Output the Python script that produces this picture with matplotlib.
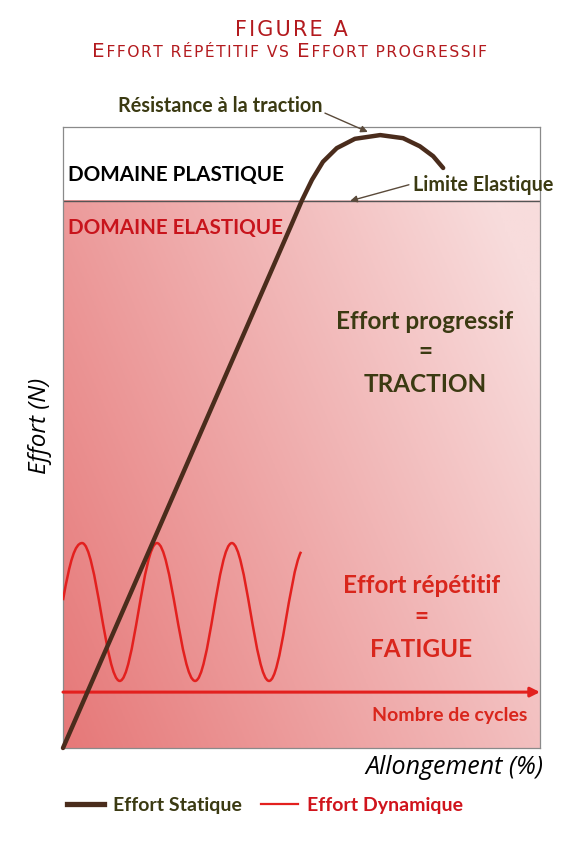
import numpy as np
import matplotlib.pyplot as plt
from matplotlib.path import Path
from matplotlib.patches import PathPatch
from matplotlib.lines import Line2D

plt.rcParams['font.family'] = ['Lato', 'DejaVu Sans']

# static curve (allongement %, effort) - straight part then the plastic arc
static_x = [0.0, 47.8, 50.1, 52.2, 54.5, 57.4, 61.2, 66.5, 71.3, 74.8, 77.6, 79.7]
static_y = [0.0, 84.1, 88.2, 91.5, 94.4, 96.6, 98.1, 98.7, 98.2, 96.9, 95.3, 93.4]

# dynamic curve: key points (start, peaks / troughs, end)
dyn_x = [0.0, 4.0, 11.9, 19.7, 27.7, 35.4, 43.2, 49.9]
dyn_y = [23.8, 33.0, 10.8, 33.0, 10.8, 33.0, 10.8, 31.6]
dyn_slope = [4.4, 0.0, 0.0, 0.0, 0.0, 0.0, 0.0, 1.5]

limite_elastique = 88.1
cycles_axis_y = 9.0

brown = '#4a2c1c'
olive = '#3b3a12'
red_txt = '#d9261c'
red_line = '#e3201e'

fig = plt.figure(figsize=(5.69, 8.43), dpi=100)
ax = fig.add_axes([63 / 569, 95 / 843, 477 / 569, 621 / 843])
ax.set_xlim(0, 100)
ax.set_ylim(0, 100)
ax.set_xticks([])
ax.set_yticks([])
for s in ax.spines.values():
    s.set_color('#8a8a8a')
    s.set_linewidth(0.9)

# pink gradient of the elastic domain
gx, gy = np.meshgrid(np.linspace(0, 1, 200), np.linspace(0, 1, 200))
t = np.clip(0.72 * gx + 0.35 * gy, 0, 1)
c0 = np.array([230, 120, 120]) / 255
c1 = np.array([248, 220, 220]) / 255
img = c0 + (c1 - c0) * t[..., None]
ax.imshow(img, extent=(0, 100, 0, limite_elastique), origin='lower',
          aspect='auto', zorder=0)
ax.axhline(limite_elastique, color='#555555', lw=1, zorder=1)

# dynamic effort - smooth wave through the key points
verts = [(dyn_x[0], dyn_y[0])]
codes = [Path.MOVETO]
for i in range(len(dyn_x) - 1):
    dx = dyn_x[i + 1] - dyn_x[i]
    h = 0.364 * dx
    verts += [(dyn_x[i] + h, dyn_y[i] + h * dyn_slope[i]),
              (dyn_x[i + 1] - h, dyn_y[i + 1] - h * dyn_slope[i + 1]),
              (dyn_x[i + 1], dyn_y[i + 1])]
    codes += [Path.CURVE4] * 3
ax.add_patch(PathPatch(Path(verts, codes), fill=False, edgecolor=red_line,
                       lw=1.8, zorder=3))

# static effort
ax.plot(static_x, static_y, color=brown, lw=3.2, solid_capstyle='round',
        solid_joinstyle='round', zorder=4, clip_on=False)

# nombre de cycles axis
ax.annotate('', xy=(100, cycles_axis_y), xytext=(0, cycles_axis_y),
            arrowprops=dict(arrowstyle='-|>', color=red_line, lw=2.2,
                            mutation_scale=14, shrinkA=0, shrinkB=0), zorder=3)
ax.text(81.0, 5.3, 'Nombre de cycles', color=red_txt, fontsize=14,
        fontweight='bold', ha='center', va='center')

# domain labels
ax.text(1.0, 92.3, 'DOMAINE PLASTIQUE', color='black', fontsize=14.9,
        fontweight='bold', ha='left', va='center')
ax.text(1.0, 83.8, 'DOMAINE ELASTIQUE', color='#c8141c', fontsize=14.9,
        fontweight='bold', ha='left', va='center')

# annotations
arrow_kw = dict(arrowstyle='-|>', color='#5a4a3a', lw=1, mutation_scale=10,
                shrinkA=0, shrinkB=0)
ax.annotate('Résistance à la traction', xy=(63.9, 99.2), xytext=(32.9, 103.4),
            color=olive, fontsize=14.3, fontweight='bold', ha='center',
            va='center', annotation_clip=False,
            arrowprops=dict(arrow_kw, relpos=(1.0, 0.2)))
ax.annotate('Limite Elastique', xy=(60.2, 88.1), xytext=(73.4, 90.7),
            color=olive, fontsize=14.2, fontweight='bold', ha='left',
            va='center', annotation_clip=False,
            arrowprops=dict(arrow_kw, relpos=(-0.03, 0.5)))

# central statements
for txt, y in [('Effort progressif', 68.6), ('=', 63.8), ('TRACTION', 58.5)]:
    ax.text(75.9, y, txt, color=olive, fontsize=17.5, fontweight='bold',
            ha='center', va='center')
for txt, y in [('Effort répétitif', 26.2), ('=', 21.1), ('FATIGUE', 15.8)]:
    ax.text(75.1, y, txt, color=red_txt, fontsize=17.5, fontweight='bold',
            ha='center', va='center')

# axis titles
ax.set_xlabel('Allongement (%)', fontsize=18, style='italic',
              family=['Open Sans', 'DejaVu Sans'], ha='right', va='center')
ax.xaxis.set_label_coords(1.008, -0.031)
ax.set_ylabel('Effort (N)', fontsize=17.5, style='italic',
              family=['Open Sans', 'DejaVu Sans'], va='center')
ax.yaxis.set_label_coords(-0.048, 0.518)

# title, second line in small caps built from pieces (hair spaces = tracking)
hs = '\u200a'
title_c = '#b31a1e'
fig.text(291 / 569, 1 - 30 / 843, hs.join('FIGURE A'), color=title_c,
         fontsize=15, family=['DejaVu Sans'], ha='center', va='center')
pieces = [('E', 14.3), ('FFORT RÉPÉTITIF VS ', 11.2), ('E', 14.3),
          ('FFORT PROGRESSIF', 11.2)]
yb = 1 - 57 / 843
prev = fig.text(92 / 569, yb, pieces[0][0], color=title_c, fontsize=pieces[0][1],
                family=['DejaVu Sans'], ha='left', va='baseline')
for txt, fs in pieces[1:]:
    prev = ax.annotate(hs + hs.join(txt), xy=(1, yb),
                       xycoords=(prev, 'figure fraction'),
                       color=title_c, fontsize=fs, family=['DejaVu Sans'],
                       ha='left', va='baseline', annotation_clip=False)

# legend
handles = [Line2D([], [], color=brown, lw=3.8),
           Line2D([], [], color=red_line, lw=1.6)]
leg = ax.legend(handles, ['Effort Statique', 'Effort Dynamique'], ncol=2,
                loc='center left', bbox_to_anchor=(67 / 569, 1 - 805 / 843),
                bbox_transform=fig.transFigure, frameon=False,
                prop=dict(weight='bold', size=14), handlelength=1.9,
                handletextpad=0.45, columnspacing=1.0, borderpad=0,
                borderaxespad=0)
for txt, c in zip(leg.get_texts(), [olive, '#d0141c']):
    txt.set_color(c)

fig.savefig('out.png', dpi=100)
